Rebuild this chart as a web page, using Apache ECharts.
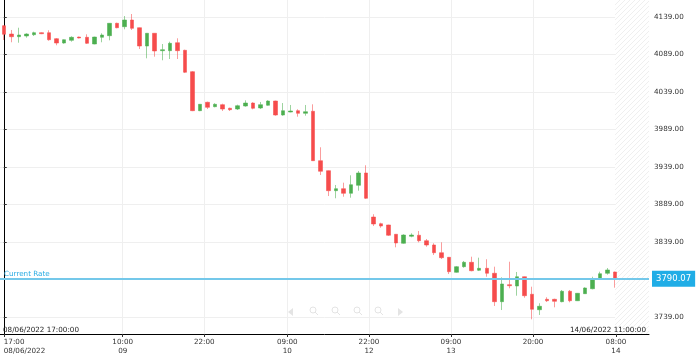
<!DOCTYPE html>
<html><head><meta charset="utf-8">
<script src="https://cdn.jsdelivr.net/npm/echarts@6/dist/echarts.min.js"></script>
<style>html,body{margin:0;padding:0;background:#fff}#c{width:699px;height:357px}</style>
</head><body><div id="c"></div>
<script>
// ---- data (hourly candles, 08/06/2022 17:00 -> 14/06/2022 11:00) ----
const opens  = [4127.4,4116.3,4112.7,4113.7,4115.4,4118.1,4118.1,4110.1,4104.3,4107.9,4112.3,4111.9,4103.0,4111.9,4114.1,4130.6,4126.1,4135.0,4124.7,4100.3,4117.3,4094.1,4094.1,4104.7,4094.6,4066.1,4014.1,4025.3,4019.4,4022.1,4017.3,4016.3,4020.3,4024.3,4017.7,4021.3,4027.0,4008.3,4012.3,4014.1,4010.6,4013.3,3947.4,3934.1,3907.4,3910.1,3903.9,3914.6,3931.0,3872.3,3863.4,3861.7,3849.3,3837.3,3846.6,3848.0,3840.7,3835.0,3824.7,3818.6,3798.6,3806.1,3811.9,3801.3,3803.9,3797.3,3759.4,3782.1,3780.3,3792.7,3769.3,3748.7,3762.6,3762.6,3759.4,3773.3,3760.7,3770.1,3776.7,3789.3,3797.3,3799.0];
const closes = [4115.9,4112.7,4115.0,4116.3,4118.1,4116.7,4108.7,4104.3,4108.7,4111.9,4111.0,4103.9,4112.3,4115.0,4130.6,4124.7,4135.0,4123.9,4100.3,4117.3,4093.7,4095.4,4103.9,4094.1,4065.3,4014.1,4022.6,4018.6,4022.6,4016.3,4015.4,4020.7,4024.3,4017.3,4022.1,4027.0,4008.3,4014.1,4013.7,4010.6,4012.7,3947.4,3933.3,3907.4,3910.1,3903.9,3915.4,3931.0,3897.3,3863.0,3860.3,3848.0,3837.7,3848.3,3848.3,3840.7,3835.0,3824.7,3818.1,3799.4,3806.1,3811.9,3800.7,3803.9,3797.3,3759.4,3783.0,3780.7,3792.7,3767.4,3749.3,3753.3,3760.7,3759.9,3773.3,3760.7,3770.6,3777.7,3789.7,3796.7,3801.7,3790.07];
const lows   = [4108.3,4105.3,4104.7,4111.4,4113.7,4116.2,4107.4,4101.3,4103.4,4106.1,4110.5,4103.0,4102.6,4105.3,4107.9,4124.0,4122.6,4121.7,4096.3,4083.9,4086.1,4081.3,4083.0,4083.0,4064.3,4013.5,4013.5,4016.3,4018.6,4013.7,4013.7,4015.0,4019.4,4015.9,4016.3,4020.7,4007.4,4007.4,4011.9,4006.1,4007.4,3947.0,3928.3,3900.3,3897.3,3899.4,3898.1,3907.4,3896.3,3860.3,3858.0,3847.0,3831.9,3836.7,3845.3,3838.6,3832.7,3821.7,3816.3,3796.3,3798.1,3804.7,3799.9,3800.3,3792.7,3753.7,3748.3,3777.3,3767.4,3764.7,3735.9,3741.7,3759.0,3751.9,3758.6,3758.6,3760.3,3769.7,3775.9,3788.3,3795.4,3778.1];
const highs  = [4128.0,4121.7,4124.7,4117.3,4119.4,4118.6,4121.3,4111.0,4109.2,4113.3,4112.8,4115.9,4112.7,4117.3,4131.0,4131.4,4140.3,4143.0,4125.0,4117.5,4117.5,4103.0,4106.1,4110.6,4095.4,4067.0,4023.0,4026.1,4024.0,4023.4,4018.1,4022.1,4027.9,4025.3,4025.7,4027.9,4027.4,4024.3,4021.7,4016.0,4021.7,4022.6,3965.3,3934.5,3915.0,3918.1,3927.9,3933.7,3941.3,3876.0,3864.7,3862.0,3849.6,3849.3,3850.6,3853.7,3843.0,3837.3,3838.6,3819.0,3807.0,3813.7,3819.4,3818.1,3816.0,3806.1,3791.9,3812.7,3799.0,3793.0,3779.4,3757.3,3765.3,3763.4,3775.0,3775.0,3771.0,3778.6,3792.7,3799.4,3804.3,3799.5];
const futureSlots = 4;
const currentRate = 3790.07;
const tickPos  = [0, 15.76, 26.57, 37.57, 48.39, 59.26, 70.13, 81.12];
const tickTime = ['17:00','10:00','22:00','09:00','22:00','09:00','20:00','08:00'];
const tickDate = ['08/06/2022','09','','10','12','13','','14'];
const yTicks = [3739, 3789, 3839, 3889, 3939, 3989, 4039, 4089, 4139];
const yMin = 3716.33, yMax = 4161.67;
const startStamp = '08/06/2022 17:00:00';
const endStamp = '14/06/2022 11:00:00';

// ---- build ----
const n = closes.length;
const cats = [];
for (let i = 0; i < n + futureSlots; i++) cats.push(String(i));
const candles = opens.map((o, i) => [o, closes[i], lows[i], highs[i]]);

const pc = document.createElement('canvas');
pc.width = 5; pc.height = 5;
const g = pc.getContext('2d');
g.fillStyle = '#ffffff'; g.fillRect(0, 0, 5, 5);
g.strokeStyle = '#efefef'; g.lineWidth = 1;
g.beginPath(); g.moveTo(0, 5); g.lineTo(5, 0); g.moveTo(-1, 1); g.lineTo(1, -1); g.moveTo(4, 6); g.lineTo(6, 4); g.stroke();

const FONT = 'DejaVu Sans';
const chart = echarts.init(document.getElementById('c'), null, {renderer: 'canvas'});
const faint = '#e4e4e4';
function magnifier(cx, cy) {
  return [
    {type: 'circle', shape: {cx: cx, cy: cy, r: 3}, style: {fill: 'none', stroke: faint, lineWidth: 1}},
    {type: 'line', shape: {x1: cx + 2, y1: cy + 2, x2: cx + 5, y2: cy + 5}, style: {stroke: faint, lineWidth: 1}}
  ];
}
chart.setOption({
  animation: false,
  backgroundColor: '#ffffff',
  grid: {left: 0, right: 50, top: 0, bottom: 23, containLabel: false},
  xAxis: [
    {type: 'category', data: cats, show: false, boundaryGap: true},
    {type: 'value', min: -0.5, max: cats.length - 0.5, position: 'bottom',
     axisLine: {show: true, onZero: false, lineStyle: {color: '#000', width: 1}},
     axisTick: {show: true, length: 3, customValues: tickPos, lineStyle: {color: '#333'}},
     axisLabel: {customValues: tickPos, alignMinLabel: 'left', fontSize: 7.2, fontFamily: FONT, color: '#333', lineHeight: 9.5, margin: 3,
       formatter: function (v) {
         let k = 0, best = 1e9;
         tickPos.forEach((p, i) => { if (Math.abs(p - v) < best) { best = Math.abs(p - v); k = i; } });
         return tickTime[k] + '\n' + tickDate[k];
       }},
     splitLine: {show: true, lineStyle: {color: '#efefef', width: 1}}}
  ],
  yAxis: {type: 'value', position: 'right', min: yMin, max: yMax, scale: true,
    axisLine: {show: true, lineStyle: {color: '#000', width: 1}},
    axisTick: {show: true, length: 3, customValues: yTicks, lineStyle: {color: '#333'}},
    axisLabel: {customValues: yTicks, formatter: v => v.toFixed(2), fontSize: 7.2, fontFamily: FONT, color: '#333', margin: 5},
    splitLine: {show: true, lineStyle: {color: '#efefef', width: 1}}},
  series: [
    {type: 'line', xAxisIndex: 1, yAxisIndex: 0, data: [], z: 1, silent: true,
     markArea: {silent: true, itemStyle: {color: {image: pc, repeat: 'repeat'}},
       data: [[{xAxis: n - 1}, {xAxis: cats.length - 0.5}]]}},
    {type: 'candlestick', xAxisIndex: 0, yAxisIndex: 0, data: candles, z: 3, barWidth: 4,
     itemStyle: {color: '#4caf50', color0: '#f64c4c', borderColor: 'rgba(76,175,80,0.55)', borderColor0: 'rgba(246,76,76,0.55)', borderWidth: 1},
     markLine: {silent: true, symbol: 'none', animation: false,
       lineStyle: {color: '#74c8ea', width: 2, type: 'solid'},
       data: [
         {yAxis: currentRate, label: {show: true, position: 'insideStartTop', formatter: 'Current Rate', color: '#29abe2', fontSize: 7.2, fontFamily: FONT, distance: [4, 1]}},
         {yAxis: currentRate, label: {show: true, position: 'end', formatter: p => p.value.toFixed(2), color: '#fff', backgroundColor: '#20ade6', padding: [4, 4, 3, 4], fontSize: 8.5, fontFamily: FONT, distance: 3}}
       ]}}
  ],
  graphic: [
    {type: 'text', left: 3, top: 327, z: 10, style: {text: startStamp, fontSize: 7.2, fontFamily: FONT, fill: '#222'}},
    {type: 'text', right: 53, top: 327, z: 10, style: {text: endStamp, fontSize: 7.2, fontFamily: FONT, fill: '#222', textAlign: 'right'}},
    {type: 'polygon', shape: {points: [[293, 308], [293, 316], [288, 312]]}, style: {fill: faint}},
    ...magnifier(313, 310), ...magnifier(335, 310), ...magnifier(357, 310), ...magnifier(378, 310),
    {type: 'polygon', shape: {points: [[398, 308], [398, 316], [403, 312]]}, style: {fill: faint}}
  ]
});
</script></body></html>
